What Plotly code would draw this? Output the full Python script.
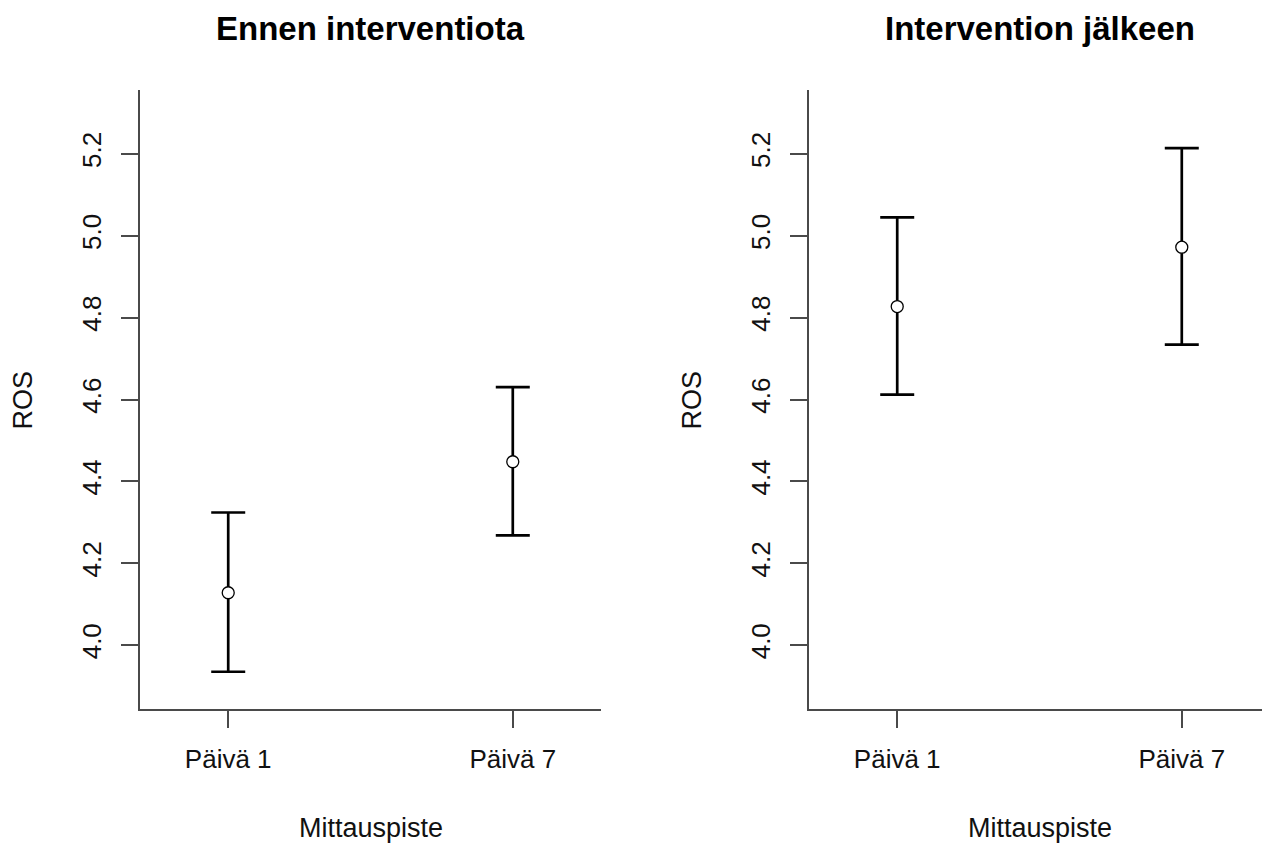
import plotly.graph_objects as go

# ---- data ----
categories = ["Päivä 1", "Päivä 7"]
x_pos = [1, 2]
panel_titles = ["Ennen interventiota", "Intervention jälkeen"]

before_mean = [4.128, 4.448]
before_upper = [4.324, 4.630]
before_lower = [3.935, 4.268]

after_mean = [4.827, 4.972]
after_upper = [5.045, 5.214]
after_lower = [4.612, 4.734]

y_ticks = [4.0, 4.2, 4.4, 4.6, 4.8, 5.0, 5.2]
x_title = "Mittauspiste"
y_title = "ROS"

# page body has an 8px margin; figure fills the rest of the 1270x843 window
OFF = 8
W, H = 1270 - OFF, 843 - OFF
FONT = "Liberation Sans, Arial, sans-serif"


def px_x(p):
    return (p - OFF) / W


def px_y(p):
    return 1 - (p - OFF) / H


fig = go.Figure()

panels = [
    (before_mean, before_upper, before_lower, "x", "y"),
    (after_mean, after_upper, after_lower, "x2", "y2"),
]
for mean, up, lo, xa, ya in panels:
    fig.add_trace(go.Scatter(
        x=x_pos, y=mean, xaxis=xa, yaxis=ya, mode="markers",
        marker=dict(symbol="circle", size=12, color="white",
                    line=dict(color="black", width=1.3)),
        error_y=dict(type="data", symmetric=False,
                     array=[u - m for u, m in zip(up, mean)],
                     arrayminus=[m - l for m, l in zip(mean, lo)],
                     color="black", thickness=2.7, width=17),
        showlegend=False, hoverinfo="skip",
    ))

x_domains = [[px_x(140), px_x(601)], [px_x(809), 1.0]]
y_domain = [px_y(709), px_y(90)]

axis_common = dict(
    showgrid=False, zeroline=False, showline=True, linecolor="#4a4a4a",
    linewidth=1.6, ticks="outside", ticklen=17, tickwidth=1.6, tickcolor="#4a4a4a",
    tickfont=dict(family=FONT, size=26, color="#111"),
)

layout = dict(
    width=W, height=H, margin=dict(l=0, r=0, t=0, b=0),
    plot_bgcolor="white", paper_bgcolor="white", showlegend=False,
)
for i, (xa, ya) in enumerate([("xaxis", "yaxis"), ("xaxis2", "yaxis2")]):
    anchor_x = "y" if i == 0 else "y2"
    anchor_y = "x" if i == 0 else "x2"
    layout[xa] = dict(axis_common, domain=x_domains[i], anchor=anchor_x,
                      range=[0.69, 2.31], tickvals=x_pos, ticktext=categories,
                      ticklabelstandoff=9)
    layout[ya] = dict(axis_common, domain=y_domain, anchor=anchor_y,
                      range=[3.844, 5.356], tickvals=y_ticks, tickformat=".1f",
                      tickangle=-90, ticklabelstandoff=10)
fig.update_layout(**layout)

ros_x = [22.5, 691.5]
for i in range(2):
    cx = (x_domains[i][0] + x_domains[i][1]) / 2
    fig.add_annotation(text="<b>" + panel_titles[i] + "</b>", xref="paper", yref="paper",
                       x=cx, y=1.0, xanchor="center", yanchor="top",
                       showarrow=False, font=dict(family=FONT, size=33, color="black"))
    fig.add_annotation(text=x_title, xref="paper", yref="paper",
                       x=cx, y=px_y(828), xanchor="center", yanchor="middle",
                       showarrow=False, font=dict(family=FONT, size=27, color="#111"))
    fig.add_annotation(text=y_title, xref="paper", yref="paper",
                       x=px_x(ros_x[i]), y=px_y(400),
                       xanchor="center", yanchor="middle", textangle=-90,
                       showarrow=False, font=dict(family=FONT, size=27, color="#111"))

fig.write_html("out.html")
